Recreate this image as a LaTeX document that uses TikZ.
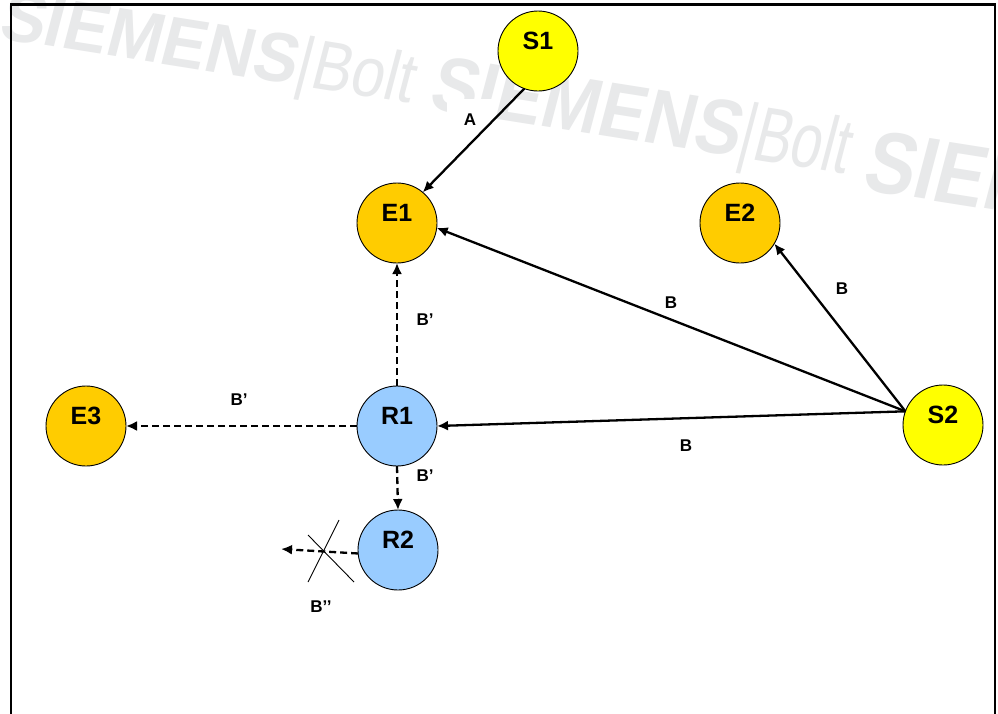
\documentclass[tikz,border=0pt]{standalone}
\usepackage{graphicx}
\usepackage{fontspec}
\setmainfont{Liberation Sans}
\usetikzlibrary{arrows.meta}
\definecolor{syellow}{RGB}{255,255,0}
\definecolor{eorange}{RGB}{255,204,0}
\definecolor{rblue}{RGB}{153,204,255}
\definecolor{wmgray}{RGB}{232,233,234}
\begin{document}
\begin{tikzpicture}[x=1pt,y=-1pt,
 circ/.style={circle,draw=black,line width=0.9pt,minimum size=80pt,inner sep=0pt,outer sep=0pt},
 nlab/.style={font=\fontsize{25}{25}\selectfont\bfseries,inner sep=0pt},
 elab/.style={font=\fontsize{17}{17}\selectfont\bfseries,inner sep=0pt},
 arr/.style={line width=2.3pt,-{Latex[length=11pt,width=10pt]}},
 darr/.style={arr,dash pattern=on 7pt off 4pt},
 crossline/.style={line width=0.9pt},
 wm/.style={text=wmgray,anchor=base west,inner sep=0pt,rotate=-9,xslant=0.1},
 frame/.style={line width=2.2pt}
]
\useasboundingbox (0,0) rectangle (998,713);
\fill[white] (0,0) rectangle (998,713);
% watermark
\node[wm,xscale=0.95] (wm1) at (-3,38) {\fontsize{70}{70}\selectfont\bfseries SIEMENS\mdseries\scalebox{0.9}[1]{|Bolt}};
\node[wm,xscale=0.89] (wm2) at (427,108) {\fontsize{78}{78}\selectfont\bfseries SIEMENS\mdseries\scalebox{0.8}[1]{|Bolt}};
\node[wm,xscale=0.85] (wm3) at (860,189) {\fontsize{88}{88}\selectfont\bfseries SIEMENS};
% frame
\draw[frame] (11,720) -- (11,4.5) -- (995,4.5) -- (995,720);
% nodes
\node[circ,fill=syellow,label={[nlab,yshift=10.5pt]center:S1}] (S1) at (538,51) {};
\node[circ,fill=eorange,label={[nlab,yshift=10.5pt]center:E1}] (E1) at (397,223) {};
\node[circ,fill=eorange,label={[nlab,yshift=10.5pt]center:E2}] (E2) at (740,223) {};
\node[circ,fill=eorange,label={[nlab,yshift=10.5pt]center:E3}] (E3) at (86,426) {};
\node[circ,fill=rblue,label={[nlab,yshift=10.5pt]center:R1}] (R1) at (397,426) {};
\node[circ,fill=rblue,label={[nlab,yshift=10.5pt]center:R2}] (R2) at (398,550) {};
\node[circ,fill=syellow,label={[nlab,yshift=10.5pt]center:S2}] (S2) at (943,425) {};
% free ends
\coordinate (lost) at (281,549);
\coordinate (c1a) at (308,535);
\coordinate (c1b) at (354,582);
\coordinate (c2a) at (339,520);
\coordinate (c2b) at (308,582);
% edge labels
\node[elab,fill=white,minimum width=46pt,minimum height=42pt] (lA) at (470,120) {A};
\node[elab] (lB1) at (671,303) {B};
\node[elab] (lB2) at (842,289) {B};
\node[elab] (lB3) at (686,446) {B};
\node[elab] (lP1) at (425,320) {B’};
\node[elab] (lP2) at (239,400) {B’};
\node[elab] (lP3) at (425,476) {B’};
\node[elab] (lPP) at (321,607) {B’’};
% connectors
\draw[arr] (S1.-110) -- (E1.50);
\draw[arr] (S2.160) -- (E1.-7);
\draw[arr] (S2.160) -- (E2.-31);
\draw[arr] (S2.160) -- (R1.east);
\draw[darr] (R1.north) -- (E1.south);
\draw[darr] (R1.west) -- (E3.east);
\draw[darr] (R1.south) -- (R2.north);
\draw[darr] (R2.-175) -- (lost);
\draw[crossline] (c1a) -- (c1b);
\draw[crossline] (c2a) -- (c2b);
\end{tikzpicture}
\end{document}
